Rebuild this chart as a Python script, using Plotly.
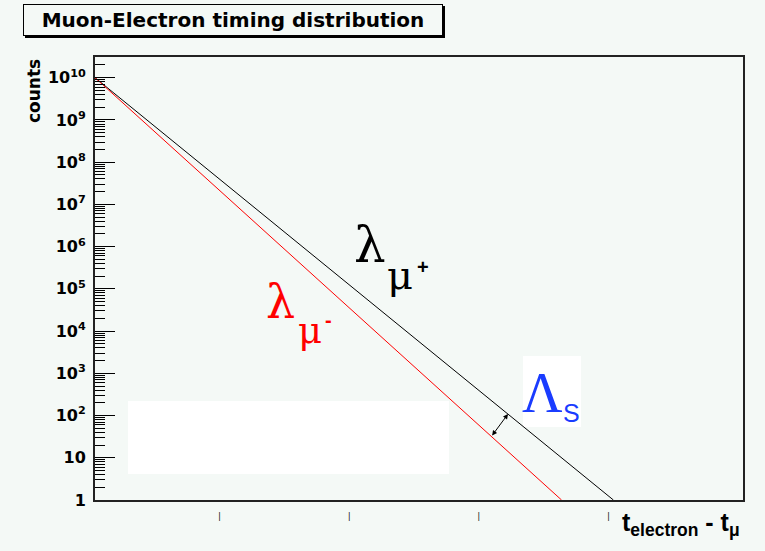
import plotly.graph_objects as go

# ---- data ----
t_mu_plus = [0.0, 4.0]          # electron - muon time (arb. units)
counts_mu_plus = [1e10, 1.0]
t_mu_minus = [0.0, 3.6]
counts_mu_minus = [1e10, 1.0]

y_tickvals = [1, 10, 1e2, 1e3, 1e4, 1e5, 1e6, 1e7, 1e8, 1e9, 1e10]
y_ticktext = ["1", "10", "10<sup>2</sup>", "10<sup>3</sup>", "10<sup>4</sup>",
              "10<sup>5</sup>", "10<sup>6</sup>", "10<sup>7</sup>", "10<sup>8</sup>",
              "10<sup>9</sup>", "10<sup>10</sup>"]
x_tickvals = [1, 2, 3, 4]
x_ticktext = ["|", "|", "|", "|"]

minor_vals = [m * 10 ** k for k in range(0, 11) for m in range(2, 10)]

W, H = 765, 551
L, R, T, B = 95, 743, 57, 500   # plot frame in screen pixels
BG = "#f4f9f6"


def px(x):
    return (x - L) / (R - L)


def py(y):
    return (B - y) / (B - T)


fig = go.Figure()
fig.add_trace(go.Scatter(x=t_mu_plus, y=counts_mu_plus, mode="lines",
                         line=dict(color="black", width=1), showlegend=False))
fig.add_trace(go.Scatter(x=t_mu_minus, y=counts_mu_minus, mode="lines",
                         line=dict(color="#ff0000", width=1), showlegend=False))

shapes = [
    dict(type="rect", xref="paper", yref="paper", x0=px(128), x1=px(449),
         y0=py(474), y1=py(401), fillcolor="white", line=dict(width=0), layer="below"),
    dict(type="rect", xref="paper", yref="paper", x0=px(523), x1=px(581),
         y0=py(427), y1=py(356), fillcolor="white", line=dict(width=0), layer="below"),
    dict(type="rect", xref="paper", yref="paper", x0=px(25), x1=px(445),
         y0=py(38), y1=py(6), fillcolor="black", line=dict(width=0)),
]

ann = []
ann.append(dict(xref="paper", yref="paper", x=px(233), y=py(20),
                text="<b>Muon-Electron timing distribution</b>", showarrow=False,
                font=dict(family="DejaVu Sans", size=20, color="black"),
                bgcolor=BG, bordercolor="black", borderwidth=1, borderpad=0,
                width=418, height=30, xanchor="center", yanchor="middle"))
ann.append(dict(xref="paper", yref="paper", x=px(34), y=py(91), text="<b>counts</b>",
                textangle=-90, showarrow=False,
                font=dict(family="DejaVu Sans", size=17, color="black"),
                xanchor="center", yanchor="middle"))
ann.append(dict(xref="paper", yref="paper", x=px(620), y=py(524),
                text="<b>t<sub>electron</sub> - t<sub>μ</sub></b>", showarrow=False,
                font=dict(family="Liberation Sans", size=25, color="black"),
                xanchor="left", yanchor="middle"))


def lab(x, y, s, size, color, family="DejaVu Serif"):
    ann.append(dict(xref="paper", yref="paper", x=px(x), y=py(y), text=s, showarrow=False,
                    font=dict(family=family, size=size, color=color),
                    xanchor="center", yanchor="middle"))


lab(370, 245, "λ", 50, "black")
lab(400, 275, "μ", 40, "black")
lab(423, 267, "<b>+</b>", 20, "black", "Liberation Sans")
lab(280, 302, "λ", 46, "#ff0000")
lab(310, 330, "μ", 37, "#ff0000")
lab(328, 320, "<b>-</b>", 20, "#ff0000", "Liberation Sans")
lab(542, 393, "Λ", 56, "#1a3cff", "Liberation Serif")
lab(571, 413, "S", 25, "#1a3cff", "Liberation Sans")

ann.append(dict(xref="paper", yref="paper", x=px(508), y=py(414), ax=491 - 508, ay=437 - 414,
                text="", showarrow=True, arrowhead=2, arrowside="end+start",
                arrowsize=1, arrowwidth=1, arrowcolor="black"))

fig.update_layout(
    width=W, height=H,
    margin=dict(l=L, r=W - R, t=T, b=H - B),
    paper_bgcolor=BG, plot_bgcolor=BG,
    shapes=shapes, annotations=ann, showlegend=False,
    xaxis=dict(range=[0, 5], showgrid=False, zeroline=False,
               showline=True, mirror=True, linecolor="#222", linewidth=2,
               tickmode="array", tickvals=x_tickvals, ticktext=x_ticktext,
               ticks="", ticklabelshift=-5, ticklabelstandoff=6,
               tickfont=dict(family="DejaVu Sans", size=9, color="#222")),
    yaxis=dict(type="log", range=[0, 10.49], showgrid=False, zeroline=False,
               showline=True, mirror=True, linecolor="#222", linewidth=2,
               tickmode="array", tickvals=y_tickvals, ticktext=y_ticktext,
               ticks="inside", ticklen=20, tickwidth=1, tickcolor="black",
               ticklabelstandoff=4,
               tickfont=dict(family="DejaVu Sans", size=16, color="black", weight="bold"),
               minor=dict(tickmode="array", tickvals=minor_vals, ticks="inside",
                          ticklen=10, tickwidth=1, tickcolor="black")),
)

fig.write_html(
    "out.html",
    config={"displayModeBar": False},
    post_script="document.body.style.margin='0';document.body.style.background='" + BG + "';",
)
